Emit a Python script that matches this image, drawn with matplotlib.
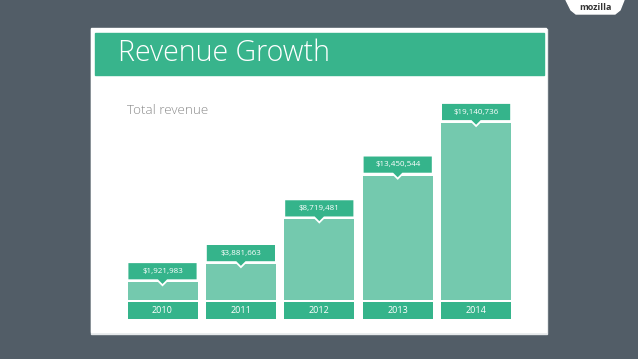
import matplotlib
matplotlib.use("Agg")
import matplotlib.pyplot as plt
from matplotlib.patches import Rectangle, Polygon

years = ["2010", "2011", "2012", "2013", "2014"]
revenue = [1921983, 3881663, 8719481, 13450544, 19140736]
labels = ["$1,921,983", "$3,881,663", "$8,719,481", "$13,450,544", "$19,140,736"]
title = "Revenue Growth"
subtitle = "Total revenue"

W, H = 638, 359
BG = "#525d67"
DARK = "#35b48b"
LIGHT = "#74c9ae"
FONT = ["Open Sans", "DejaVu Sans"]

fig = plt.figure(figsize=(W / 100, H / 100), dpi=100)
fig.patch.set_facecolor(BG)

# decoration layer in pixel coordinates (y down)
deco = fig.add_axes([0, 0, 1, 1])
deco.set_xlim(0, W)
deco.set_ylim(H, 0)
deco.axis("off")
deco.add_patch(Rectangle((0, 0), W, H, color=BG, zorder=0))
deco.add_patch(Rectangle((91, 29), 456, 305, color="#e6e9eb", zorder=1))
deco.add_patch(Rectangle((91, 28), 455, 304, color="white", zorder=2))
deco.add_patch(Rectangle((95, 33), 449, 42, color="#38b48c", zorder=3))
deco.text(118, 53, title, color="white", fontsize=20.6, fontweight="light",
          family=FONT, va="center", ha="left", zorder=4)
deco.text(127, 110, subtitle, color="#8a8a8a", fontsize=9.6, fontweight="light",
          family=FONT, va="center", ha="left", zorder=4)
# mozilla tab
deco.add_patch(Polygon([(566, 0), (624, 0), (620, 10), (615, 14), (576, 14), (571, 10)],
                       closed=True, color="white", zorder=4))
deco.text(595, 7, "mozilla", color="#333333", fontsize=6.5, fontweight="bold",
          family=FONT, ha="center", va="center", zorder=5)

# chart axes
ax_l, ax_r, ax_t, ax_b = 96, 544, 95, 325
ax = fig.add_axes([ax_l / W, (H - ax_b) / H, (ax_r - ax_l) / W, (ax_b - ax_t) / H])
ax.axis("off")
S = revenue[-1] / 177.0  # dollars per pixel
zero_px = 300
ax.set_ylim(-(ax_b - zero_px) * S, (zero_px - ax_t) * S)
c0, step = 162.5, 78.4
ax.set_xlim((ax_l - c0) / step, (ax_r - c0) / step)
xs = list(range(len(years)))
bw = 70 / step

ax.bar(xs, revenue, width=bw, color=LIGHT, zorder=2)

g, h, d, t = 2 * S, 18 * S, 5 * S, 5 / step
for x, v, lab, yr in zip(xs, revenue, labels, years):
    left, right = x - bw / 2, x + bw / 2
    b = v + g
    poly = Polygon([(left, b), (x - t, b), (x, b - d), (x + t, b), (right, b),
                    (right, b + h), (left, b + h)], closed=True,
                   facecolor=DARK, edgecolor="white", linewidth=1.3, zorder=3)
    ax.add_patch(poly)
    ax.text(x, b + h / 2, lab, color="white", fontsize=5.8, family=FONT,
            ha="center", va="center", zorder=4)
    ax.add_patch(Rectangle((left, -19 * S), bw, 17 * S, facecolor=DARK,
                           edgecolor="none", zorder=3))
    ax.text(x, -10.5 * S, yr, color="white", fontsize=6.5, family=FONT,
            ha="center", va="center", zorder=4)

fig.savefig("out.png", dpi=100, facecolor=BG)
